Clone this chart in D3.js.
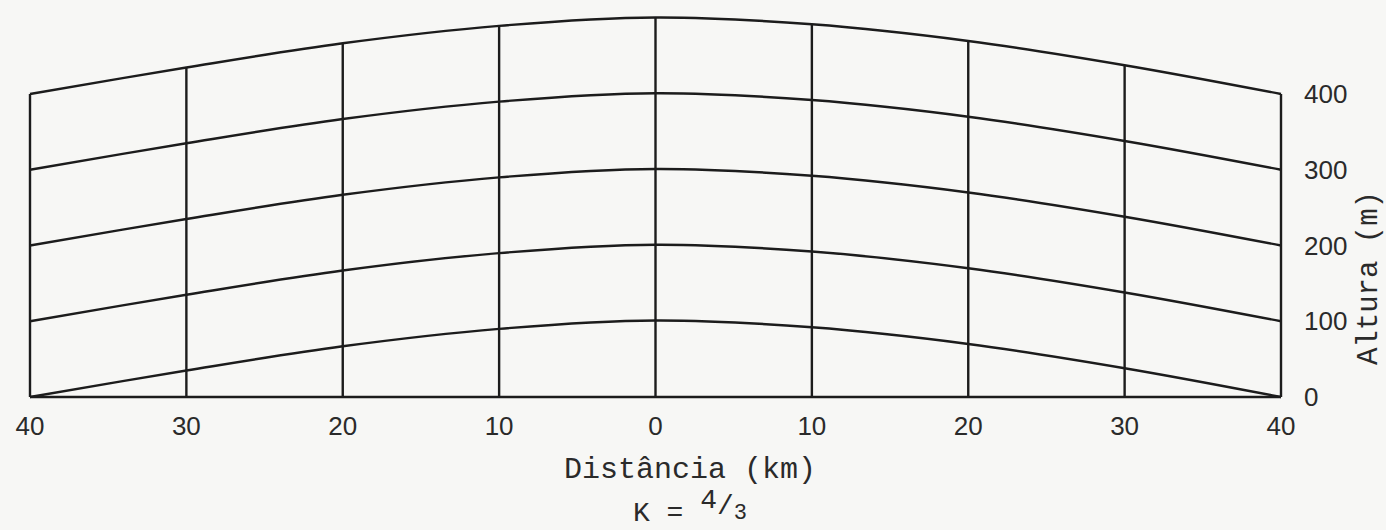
<!DOCTYPE html>
<html>
<head>
<meta charset="utf-8">
<script src="https://cdn.jsdelivr.net/npm/d3@7"></script>
<style>
	html, body { margin: 0; padding: 0; background: #f7f7f5; }
	svg { display: block; }
	.grid { fill: none; stroke: #1c1c1c; stroke-width: 2.4; stroke-linejoin: round; }
	.tick-label { font-family: "Liberation Sans", Arial, sans-serif; font-size: 26px; fill: #2a2a2a; }
	.title { font-family: "Liberation Mono", "Courier New", monospace; fill: #2a2a2a; }
</style>
</head>
<body>
<svg id="chart" width="1386" height="530"></svg>
<script>

// distance from the centre of the path (km), left side negative
const DISTANCES = [-40, -30, -20, -10, 0, 10, 20, 30, 40];
// curvature offset (m) for K = 4/3
const BULGE = [0, 35, 67, 90, 101, 92, 70, 38, 0];
// altitude curves (m)
const ALTITUDES = [0, 100, 200, 300, 400];
const X_TICKS = [-40, -30, -20, -10, 0, 10, 20, 30, 40];
const Y_TICKS = [0, 100, 200, 300, 400];

function whenDocumentLoaded(action) {
	if (document.readyState === "loading") {
		document.addEventListener("DOMContentLoaded", action);
	} else {
		action();
	}
}

whenDocumentLoaded(() => {
	const svg = d3.select('#chart');

	const x = d3.scaleLinear()
		.domain([-40, 40])
		.range([30, 1281]);

	const y = d3.scaleLinear()
		.domain([0, 400])
		.range([397, 94]);

	const line = d3.line()
		.x(d => x(d.dist))
		.y(d => y(d.h))
		.curve(d3.curveCatmullRom.alpha(0.5));

	const grid = svg.append('g');

	// straight base line
	grid.append('path')
		.classed('grid', true)
		.attr('d', d3.line()([[x(-40), y(0)], [x(40), y(0)]]));

	// curved altitude lines
	const curves = ALTITUDES.map(alt => DISTANCES.map((dist, i) => ({dist: dist, h: alt + BULGE[i]})));
	grid.selectAll('.alt')
		.data(curves)
		.enter()
		.append('path')
			.classed('grid alt', true)
			.attr('d', line);

	// vertical distance lines, from base up to the top curve
	const top = d3.max(ALTITUDES);
	grid.selectAll('.vert')
		.data(DISTANCES)
		.enter()
		.append('line')
			.classed('grid vert', true)
			.attr('x1', d => x(d))
			.attr('x2', d => x(d))
			.attr('y1', y(0))
			.attr('y2', (d, i) => y(top + BULGE[i]));

	// x labels
	svg.append('g')
		.selectAll('text')
		.data(X_TICKS)
		.enter()
		.append('text')
			.classed('tick-label', true)
			.attr('x', d => x(d))
			.attr('y', 435)
			.attr('text-anchor', 'middle')
			.text(d => Math.abs(d));

	// y labels
	svg.append('g')
		.selectAll('text')
		.data(Y_TICKS)
		.enter()
		.append('text')
			.classed('tick-label', true)
			.attr('x', 1304)
			.attr('y', d => y(d))
			.attr('dy', '0.35em')
			.text(d => d);

	svg.append('text')
		.classed('title', true)
		.attr('x', 690)
		.attr('y', 478)
		.attr('text-anchor', 'middle')
		.style('font-size', '30px')
		.text('Distância (km)');

	svg.append('text')
		.classed('title', true)
		.attr('transform', 'translate(1377,278) rotate(-90)')
		.attr('text-anchor', 'middle')
		.style('font-size', '29px')
		.text('Altura (m)');

	// K = 4/3 sits right at the bottom edge, as in the scan
	const k = svg.append('text')
		.classed('title', true)
		.attr('x', 633)
		.attr('y', 521)
		.style('font-size', '28px');
	k.append('tspan').text('K = ');
	k.append('tspan').attr('dy', -13).text('4');
	k.append('tspan').attr('dy', 6).text('/');
	k.append('tspan').attr('dy', 5).style('font-size', '22px').text('3');
});
</script>
</body>
</html>
